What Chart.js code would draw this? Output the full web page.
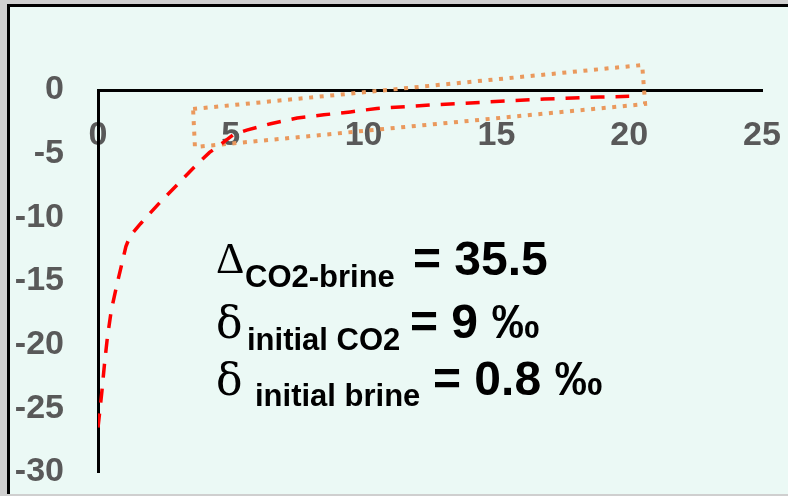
<!DOCTYPE html>
<html>
<head>
<meta charset="utf-8">
<script src="https://cdn.jsdelivr.net/npm/chart.js@4.4.0/dist/chart.umd.min.js"></script>
<style>
  html, body { margin: 0; padding: 0; background: #cfcfcf; overflow: hidden; }
  #frame {
    position: absolute; left: 7px; top: 4px; width: 800px; height: 487px;
    border-left: 3px solid #000; border-top: 3px solid #000;
    background: #ebf9f5;
  }
  #chart { position: absolute; left: 0; top: 0; }
</style>
</head>
<body>
<div id="frame"></div>
<canvas id="chart" width="788" height="496"></canvas>
<script>
// Rayleigh-type curve
const fracX = [0, 0.08, 0.15, 0.25, 0.35, 0.5, 0.7, 1.05, 1.2, 1.6, 2.3, 3.0, 3.6, 4.2, 4.6, 5.1, 5.6, 6.5, 7.5, 8.5, 9.5, 10.5, 12.5, 14.7, 16.8, 18.9, 20];
const deltaY = [-26.5, -25.0, -23.6, -21.4, -19.5, -17.3, -15.4, -12.3, -11.5, -10.5, -8.9, -7.4, -6.1, -4.9, -4.3, -3.5, -3.15, -2.65, -2.2, -1.95, -1.72, -1.45, -1.18, -0.94, -0.71, -0.55, -0.5];

// highlighted (tilted) box corners
const boxX = [3.58, 20.49, 20.6, 3.65, 3.58];
const boxY = [-1.49, 1.96, -1.1, -4.48, -1.49];

const xRange = [0, 25];
const yRange = [-30, 0];
const tickStep = 5;

const labelLines = [
  { sym: 'Δ', sub: 'CO2-brine', val: '= 35.5' },
  { sym: 'δ', sub: 'initial CO2', val: '= 9 ‰' },
  { sym: 'δ', sub: 'initial brine', val: '= 0.8 ‰' }
];

const tickFont = { family: "'Liberation Sans', Arial, sans-serif", size: 34, weight: 'bold' };

// draws the text block of constants
const textPlugin = {
  id: 'constants',
  afterDraw(chart) {
    const ctx = chart.ctx;
    const symX = 216;
    const symBase = [273, 338, 395];
    const subPos = [[245, 287], [247, 350], [255, 406]];
    const valPos = [[413, 275], [410, 338], [433, 395]];
    ctx.save();
    ctx.fillStyle = '#000';
    ctx.textBaseline = 'alphabetic';
    ctx.textAlign = 'left';
    labelLines.forEach((l, i) => {
      ctx.font = l.sym === 'Δ' ? "44px 'Liberation Serif', serif" : "44px 'DejaVu Serif', serif";
      ctx.fillText(l.sym, symX, symBase[i]);
      ctx.font = "bold 31px 'Liberation Sans', Arial, sans-serif";
      ctx.fillText(l.sub, subPos[i][0], subPos[i][1]);
      ctx.font = "bold 48px 'Liberation Sans', Arial, sans-serif";
      ctx.fillText(l.val, valPos[i][0], valPos[i][1]);
    });
    ctx.restore();
  }
};

new Chart(document.getElementById('chart').getContext('2d'), {
  type: 'scatter',
  data: {
    datasets: [
      {
        data: fracX.map((x, i) => ({ x: x, y: deltaY[i] })),
        showLine: true,
        borderColor: '#ff0000',
        borderWidth: 3.5,
        borderDash: [14, 11],
        pointRadius: 0,
        tension: 0
      },
      {
        data: boxX.map((x, i) => ({ x: x, y: boxY[i] })),
        showLine: true,
        borderColor: '#ea995d',
        borderWidth: 4,
        borderDash: [4, 6.6],
        pointRadius: 0,
        clip: false,
        tension: 0
      }
    ]
  },
  options: {
    responsive: false,
    animation: false,
    devicePixelRatio: 1,
    layout: { padding: { left: 0, top: 90, right: 26, bottom: 24 } },
    plugins: {
      legend: { display: false },
      tooltip: { enabled: false }
    },
    scales: {
      x: {
        type: 'linear',
        position: 'top',
        min: xRange[0],
        max: xRange[1],
        afterFit: function(scale) {
          scale.height = 0;
          scale.paddingLeft = 0;
          scale.paddingRight = 0;
        },
        grid: { display: false, drawTicks: false },
        border: { display: true, color: '#000', width: 3 },
        ticks: {
          stepSize: tickStep,
          mirror: true,
          padding: 25,
          color: '#595959',
          font: tickFont
        }
      },
      y: {
        type: 'linear',
        position: 'left',
        min: yRange[0],
        max: yRange[1],
        afterFit: function(scale) {
          scale.width = 98;
          scale.paddingTop = 0;
          scale.paddingBottom = 0;
        },
        grid: { display: false, drawTicks: false },
        border: { display: true, color: '#000', width: 3 },
        ticks: {
          stepSize: tickStep,
          padding: 34,
          color: '#595959',
          font: tickFont
        }
      }
    }
  },
  plugins: [textPlugin]
});
</script>
</body>
</html>
